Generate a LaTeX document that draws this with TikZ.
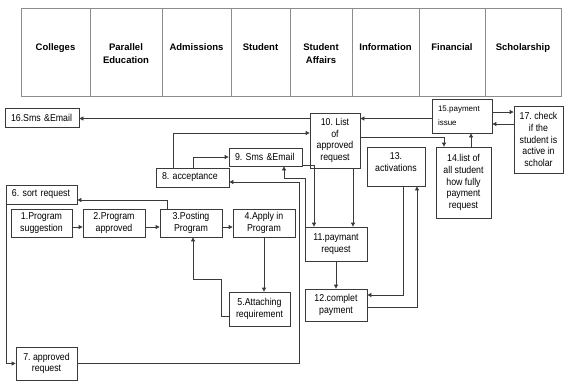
\documentclass[tikz,border=0pt]{standalone}
\usepackage{fontspec}
\setmainfont{Liberation Sans}
\newfontfamily\boxff{Liberation Sans}[FakeStretch=0.88]
\usetikzlibrary{arrows.meta}
\definecolor{tblc}{HTML}{8C8C8C}
\definecolor{boxc}{HTML}{3A3A3A}
\definecolor{linec}{HTML}{3A3A3A}
\frenchspacing
\newcommand{\bxfont}{\boxff\fontsize{10}{11.7}\selectfont\frenchspacing}
\newcommand{\hdfont}{\fontsize{9.5}{13.5}\selectfont\bfseries}
\newcommand{\smfont}{\fontsize{8}{14}\selectfont\frenchspacing}
\begin{document}
\begin{tikzpicture}[x=1pt,y=-1pt,
 bx/.style={draw=boxc, line width=0.8pt, inner sep=0pt, align=center, font=\bxfont, text=black},
 lbx/.style={bx, align=left, inner xsep=6pt},
 hd/.style={anchor=north, inner sep=0pt, align=center, font=\hdfont},
 arr/.style={draw=linec, line width=0.8pt, -{Triangle[length=4pt,width=4pt]}},
 tbl/.style={draw=tblc, line width=0.8pt}]
\useasboundingbox (0,0) rectangle (566,381);
\fill[white] (0,0) rectangle (566,381);
% table
\draw[tbl] (21,8) rectangle (561,96);
\foreach \x in {90,162,231,290,352,419,485} \draw[tbl] (\x,8) -- (\x,96);
\node[hd] (h1) at (55.5,43) {Colleges};
\node[hd] (h2) at (126,43) {Parallel\\Education};
\node[hd] (h3) at (196.5,43) {Admissions};
\node[hd] (h4) at (260.5,43) {Student};
\node[hd] (h5) at (321,43) {Student\\Affairs};
\node[hd] (h6) at (385.5,43) {Information};
\node[hd] (h7) at (452,43) {Financial};
\node[hd] (h8) at (523,43) {Scholarship};
% boxes
\node[lbx, text width=62pt, minimum height=19pt] (n16) at (42,117.5) {\mbox{16.Sms \&Email}};
\node[lbx, text width=59pt, minimum height=19pt] (n6) at (41.5,194.5) {\mbox{6. sort request}};
\node[bx, minimum width=61pt, minimum height=28pt] (n1) at (41.5,223) {1.Program\\suggestion};
\node[bx, minimum width=62pt, minimum height=28pt] (n2) at (114,223) {2.Program\\approved};
\node[bx, minimum width=62pt, minimum height=28pt] (n3) at (191,223) {3.Posting\\Program};
\node[bx, minimum width=62pt, minimum height=28pt] (n4) at (264,223) {4.Apply in\\Program};
\node[bx, minimum width=61pt, minimum height=34pt] (n5) at (259.5,309) {5.Attaching\\requirement};
\node[bx, minimum width=61pt, minimum height=33pt] (n7) at (46.5,363.5) {7. approved\\request};
\node[lbx, text width=61pt, minimum height=19pt] (n8) at (192.5,177.5) {\mbox{8. acceptance}};
\node[lbx, text width=61pt, minimum height=18pt] (n9) at (265.5,157) {\mbox{9. Sms \&Email}};
\node[bx, minimum width=50pt, minimum height=55pt] (n10) at (335,140.5) {10. List\\of\\approved\\request};
\node[bx, minimum width=62pt, minimum height=34pt] (n11) at (336,244) {11.paymant\\request};
\node[bx, minimum width=62pt, minimum height=32pt] (n12) at (336,305) {12.complet\\payment};
\node[bx, minimum width=58pt, minimum height=39pt] (n13) at (396,166.5) {13.\\activations\\[-3pt]};
\node[bx, minimum width=55pt, minimum height=71pt] (n14) at (463.5,182.5) {14.list of\\all student\\how fully\\payment\\request};
\node[lbx, text width=48pt, minimum height=34pt, font=\smfont] (n15) at (462,116) {\mbox{15.payment}\\issue};
\node[bx, minimum width=49pt, minimum height=67pt] (n17) at (538.5,139.5) {17. check\\if the\\student is\\active in\\scholar};
% connectors
\draw[arr] ([yshift=-4pt]n1.east) -- ([yshift=-4pt]n2.west);
\draw[arr] ([yshift=-4pt]n2.east) -- ([yshift=-4pt]n3.west);
\draw[arr] ([yshift=-4pt]n3.east) -- ([yshift=-4pt]n4.west);
\draw[arr] ([xshift=-24pt]n3.north) |- ([yshift=-5.5pt]n6.east);
\draw[arr] ([xshift=1pt]n6.south west) |- (n7.west);
\draw[arr] (n4.south) -- (n4.south |- n5.north);
\draw[arr] ([yshift=-7pt]n5.west) -- ++(-7,0) -- ++(0,-37) -| ([xshift=2pt]n3.south);
\draw[arr] (n7.east) -| ([xshift=70pt,yshift=-4.5pt]n8.east) -- ([yshift=-4.5pt]n8.east);
\draw[arr] ([xshift=-19.5pt]n8.north) |- ([yshift=7.5pt]n10.west);
\draw[arr] ([xshift=0.5pt]n8.north) |- (n9.west);
\draw[arr] ([yshift=-8pt]n9.east) -| ([xshift=-22pt]n11.north);
\draw[arr] ([xshift=1pt]n11.north west) -- ++(0,-48) -| ([xshift=18.5pt]n9.south);
\draw[arr] ([xshift=18pt]n10.south) -- ([xshift=18pt]n10.south |- n11.north);
\draw[arr] (n11.south) -- (n12.north);
\draw[arr] ([xshift=7pt]n13.south) |- ([yshift=10pt]n12.east);
\draw[arr] ([yshift=-2pt]n12.east) -| ([xshift=21pt]n13.south);
\draw[arr] ([yshift=3.5pt]n10.east) -| ([xshift=-19.5pt]n14.north);
\draw[arr] ([xshift=7.5pt]n14.north) -- ([xshift=7.5pt]n14.north |- n15.south);
\draw[arr] ([yshift=-2.5pt]n15.west) -- ([yshift=-2.5pt]n15.west -| n10.east);
\draw[arr] ([yshift=22pt]n10.west) -- ([yshift=22pt]n10.west -| n16.east);
\draw[arr] ([yshift=4pt]n15.east) -- ([yshift=4pt]n15.east -| n17.west);
\draw[arr] ([yshift=-8pt]n15.east -| n17.west) -- ([yshift=-8pt]n15.east);
\end{tikzpicture}
\end{document}
